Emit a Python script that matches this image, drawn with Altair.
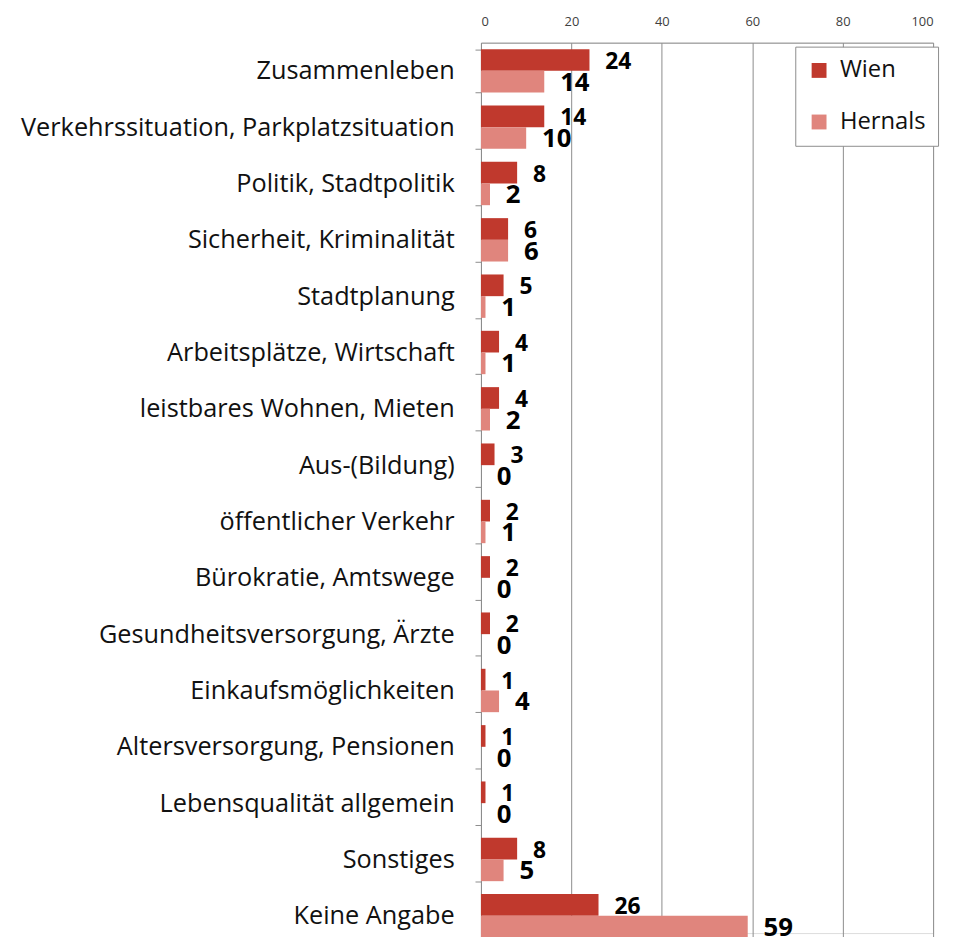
import altair as alt
import pandas as pd

categories = [
    "Zusammenleben",
    "Verkehrssituation, Parkplatzsituation",
    "Politik, Stadtpolitik",
    "Sicherheit, Kriminalität",
    "Stadtplanung",
    "Arbeitsplätze, Wirtschaft",
    "leistbares Wohnen, Mieten",
    "Aus-(Bildung)",
    "öffentlicher Verkehr",
    "Bürokratie, Amtswege",
    "Gesundheitsversorgung, Ärzte",
    "Einkaufsmöglichkeiten",
    "Altersversorgung, Pensionen",
    "Lebensqualität allgemein",
    "Sonstiges",
    "Keine Angabe",
]
wien = [24, 14, 8, 6, 5, 4, 4, 3, 2, 2, 2, 1, 1, 1, 8, 26]
hernals = [14, 10, 2, 6, 1, 1, 2, 0, 1, 0, 0, 4, 0, 0, 5, 59]
series = ["Wien", "Hernals"]
colors = ["#C0392D", "#E0857D"]
x_ticks = [0, 20, 40, 60, 80, 100]

rows = []
for c, w, h in zip(categories, wien, hernals):
    rows.append({"cat": c, "series": "Wien", "value": w})
    rows.append({"cat": c, "series": "Hernals", "value": h})
df = pd.DataFrame(rows)

FONT = "Open Sans"
GRID = "#8C8C8C"

y_enc = alt.Y(
    "cat:N",
    sort=categories,
    scale=alt.Scale(paddingInner=0.23, paddingOuter=0.115, rangeMin=0, rangeMax=909),
    axis=alt.Axis(
        title=None,
        tickBand="extent",
        tickSize=6,
        tickColor=GRID,
        domainColor=GRID,
        labelFontSize=25.5,
        labelFont=FONT,
        labelColor="#111111",
        labelPadding=21,
        labelLimit=0,
        grid=False,
    ),
)
x_enc = alt.X(
    "value:Q",
    scale=alt.Scale(domain=[0, 100], nice=False),
    axis=alt.Axis(
        orient="top",
        values=x_ticks,
        title=None,
        ticks=False,
        tickSize=0,
        domainColor=GRID,
        gridColor=GRID,
        grid=True,
        labelFontSize=13,
        labelFont=FONT,
        labelColor="#404040",
        labelPadding=14,
    ),
)
yoff = alt.YOffset("series:N", sort=series)

base = alt.Chart(df)

bars = base.mark_bar().encode(
    x=x_enc,
    y=y_enc,
    yOffset=yoff,
    color=alt.Color(
        "series:N",
        sort=series,
        scale=alt.Scale(domain=series, range=colors),
        legend=alt.Legend(
            title=None,
            orient="none",
            legendX=317,
            legendY=4,
            symbolType="square",
            symbolSize=225,
            symbolStrokeWidth=0,
            labelFontSize=24,
            labelFont=FONT,
            labelColor="#111111",
            labelOffset=9,
            rowPadding=28,
            padding=12,
            strokeColor=GRID,
            fillColor="white",
        ),
    ),
)

wien_text = (
    base.transform_filter(alt.datum.series == "Wien")
    .mark_text(align="left", baseline="middle", dx=16, dy=2, fontSize=23,
               fontWeight="bold", font=FONT, color="#000000")
    .encode(x="value:Q", y=alt.Y("cat:N", sort=categories), yOffset=yoff,
            text="value:Q")
)
hern_text = (
    base.transform_filter(alt.datum.series == "Hernals")
    .mark_text(align="left", baseline="middle", dx=16, dy=1, fontSize=26,
               fontWeight="bold", font=FONT, color="#000000")
    .encode(x="value:Q", y=alt.Y("cat:N", sort=categories), yOffset=yoff,
            text="value:Q")
)

chart = (
    alt.layer(bars, wien_text, hern_text)
    .properties(
        width=456,
        height=898,
        autosize=alt.AutoSizeParams(type="none"),
        padding={"left": 477, "top": 31, "right": 12, "bottom": 0},
    )
    .configure_view(stroke=None)
    .configure(font=FONT)
)

chart.save("out.html", embed_options={"renderer": "svg", "actions": False})
